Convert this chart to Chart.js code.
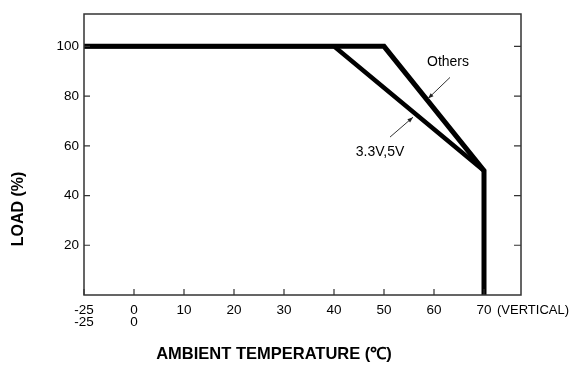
<!DOCTYPE html>
<html>
<head>
<meta charset="utf-8">
<script src="https://cdn.jsdelivr.net/npm/chart.js@4"></script>
<style>
    html, body { margin: 0; padding: 0; background: #fff; }
    #wrap { width: 571px; height: 380px; }
</style>
</head>
<body>
<div id="wrap"><canvas id="derating"></canvas></div>
<script>
// temperature ticks (deg C) and load ticks (%)
const tempTicks = [-25, 0, 10, 20, 30, 40, 50, 60, 70];
const loadTicks = [20, 40, 60, 80, 100];

// derating curves
const othersTemp = [-25, 50, 70, 70];
const othersLoad = [100, 100, 50, 0];
const lowVTemp = [-25, 40, 70];
const lowVLoad = [100, 100, 50];

// the -25..0 part of the axis is squeezed in the original drawing
const axisPos = (t) => (t < 0 ? t * 0.4 : t);
const toPoints = (xs, ys) => xs.map((t, i) => ({ x: axisPos(t), y: ys[i] }));

const FONT = "'Liberation Sans', Arial, sans-serif";

const framePlugin = {
    id: "frame",
    afterDatasetsDraw: (chart) => {
        const { ctx, chartArea: { top, bottom, left, right }, scales } = chart;
        ctx.save();
        ctx.strokeStyle = "#333";
        ctx.lineWidth = 1.5;
        ctx.strokeRect(left, top, right - left, bottom - top);
        ctx.lineWidth = 1.2;
        ctx.beginPath();
        loadTicks.forEach((v) => {
            const y = scales.y.getPixelForValue(v);
            ctx.moveTo(left, y);
            ctx.lineTo(left + 6, y);
            ctx.moveTo(right, y);
            ctx.lineTo(right - 7, y);
        });
        tempTicks.forEach((t) => {
            const x = scales.x.getPixelForValue(axisPos(t));
            ctx.moveTo(x, bottom);
            ctx.lineTo(x, bottom - 6);
        });
        ctx.stroke();

        // arrows pointing at the two curves
        const arrow = (x1, y1, x2, y2) => {
            const a = Math.atan2(y2 - y1, x2 - x1);
            ctx.beginPath();
            ctx.moveTo(x1, y1);
            ctx.lineTo(x2, y2);
            ctx.stroke();
            ctx.beginPath();
            ctx.moveTo(x2, y2);
            ctx.lineTo(x2 - 6 * Math.cos(a - 0.35), y2 - 6 * Math.sin(a - 0.35));
            ctx.lineTo(x2 - 6 * Math.cos(a + 0.35), y2 - 6 * Math.sin(a + 0.35));
            ctx.closePath();
            ctx.fill();
        };
        const px = (t) => scales.x.getPixelForValue(t);
        const py = (v) => scales.y.getPixelForValue(v);
        ctx.lineWidth = 1;
        ctx.fillStyle = "#222";
        arrow(px(63.2), py(87.5), px(58.8), py(79));
        arrow(px(51.2), py(63.5), px(55.8), py(71.5));

        ctx.fillStyle = "#000";
        ctx.font = "14px " + FONT;
        ctx.textAlign = "center";
        ctx.textBaseline = "middle";
        ctx.fillText("Others", px(62.8), py(93.5));
        ctx.fillText("3.3V,5V", px(49.2), py(57.5));

        // axis titles
        ctx.font = "bold 16.5px " + FONT;
        ctx.fillText("AMBIENT TEMPERATURE (\u2103)", 274, 354);
        ctx.save();
        ctx.translate(19, 209);
        ctx.rotate(-Math.PI / 2);
        ctx.font = "bold 16px " + FONT;
        ctx.fillText("LOAD (%)", 0, 0);
        ctx.restore();

        ctx.font = "13px " + FONT;
        ctx.textAlign = "left";
        ctx.textBaseline = "top";
        ctx.fillText("(VERTICAL)", px(70) + 13, bottom + 9);
        ctx.restore();
    },
};

const ctx = document.getElementById("derating").getContext("2d");
const deratingChart = new Chart(ctx, {
    type: "line",
    data: {
        datasets: [
            {
                label: "Others",
                data: toPoints(othersTemp, othersLoad),
                borderColor: "#000",
                borderWidth: 5,
                pointRadius: 0,
                borderJoinStyle: "miter",
                tension: 0,
            },
            {
                label: "3.3V,5V",
                data: toPoints(lowVTemp, lowVLoad),
                borderColor: "#000",
                borderWidth: 4.5,
                pointRadius: 0,
                borderJoinStyle: "miter",
                tension: 0,
            },
        ],
    },
    options: {
        responsive: true,
        maintainAspectRatio: false,
        animation: false,
        layout: { padding: { top: 14, right: 50, left: 0, bottom: 0 } },
        plugins: {
            legend: { display: false },
            tooltip: { enabled: false },
        },
        scales: {
            x: {
                type: "linear",
                min: -10,
                max: 77.4,
                afterBuildTicks: (scale) => {
                    scale.ticks = tempTicks.map((t) => ({ value: axisPos(t) }));
                },
                afterFit: (scale) => {
                    scale.height = 85;
                },
                grid: { display: false, drawTicks: false },
                border: { display: false },
                ticks: {
                    color: "#000",
                    font: { family: FONT, size: 13.5, lineHeight: 0.9 },
                    padding: 9,
                    maxRotation: 0,
                    autoSkip: false,
                    callback: (v) => {
                        if (v === axisPos(-25)) return ["-25", "-25"];
                        if (v === 0) return ["0", "0"];
                        return String(v);
                    },
                },
            },
            y: {
                min: 0,
                max: 113,
                afterBuildTicks: (scale) => {
                    scale.ticks = loadTicks.map((v) => ({ value: v }));
                },
                afterFit: (scale) => {
                    scale.width = 84;
                },
                grid: { display: false, drawTicks: false },
                border: { display: false },
                ticks: {
                    color: "#000",
                    font: { family: FONT, size: 13.5 },
                    padding: 5,
                },
            },
        },
    },
    plugins: [framePlugin],
});
</script>
</body>
</html>
